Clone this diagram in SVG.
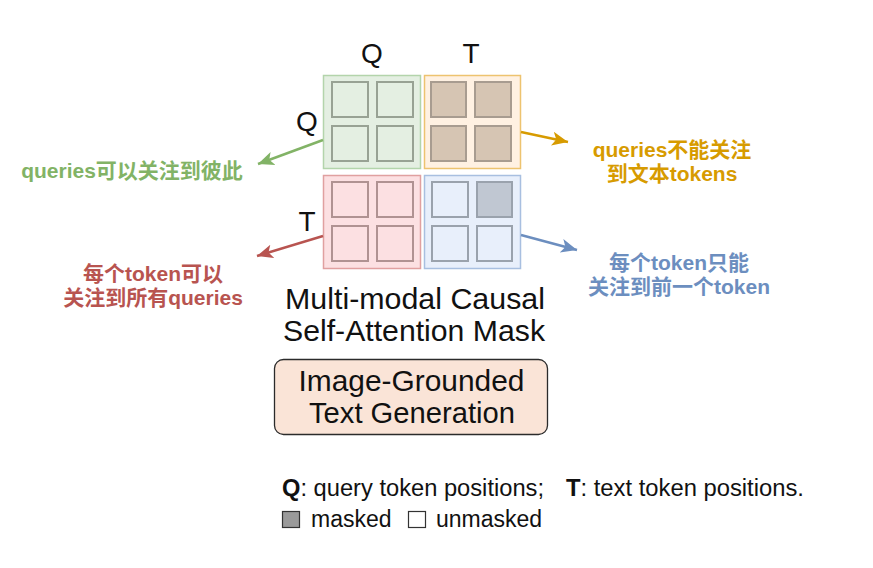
<svg xmlns="http://www.w3.org/2000/svg" width="873" height="568" viewBox="0 0 873 568">
<style>
.lbl{font-family:"Liberation Sans",Arial,Helvetica,sans-serif;fill:#111}
.ax{font-size:28px;text-anchor:middle}
.title{font-size:29.5px;text-anchor:middle}
.box{font-size:30px;text-anchor:middle}
.leg{font-size:23px}
.cn{font-family:"Liberation Sans","Noto Sans CJK SC",sans-serif;font-weight:bold;font-size:21px;text-anchor:middle}
.cell{stroke-width:2}
.conn{stroke-width:2.5;fill:none}
</style>
<defs>
<marker id="mg" markerUnits="userSpaceOnUse" markerWidth="18" markerHeight="16" refX="16" refY="7" orient="auto" viewBox="0 0 18 14"><path d="M0,0 L16,7 L0,14 L4,7 z" fill="#82b366"/></marker>
<marker id="mr" markerUnits="userSpaceOnUse" markerWidth="18" markerHeight="16" refX="16" refY="7" orient="auto" viewBox="0 0 18 14"><path d="M0,0 L16,7 L0,14 L4,7 z" fill="#b85450"/></marker>
<marker id="mo" markerUnits="userSpaceOnUse" markerWidth="18" markerHeight="16" refX="16" refY="7" orient="auto" viewBox="0 0 18 14"><path d="M0,0 L16,7 L0,14 L4,7 z" fill="#d79b00"/></marker>
<marker id="mb" markerUnits="userSpaceOnUse" markerWidth="18" markerHeight="16" refX="16" refY="7" orient="auto" viewBox="0 0 18 14"><path d="M0,0 L16,7 L0,14 L4,7 z" fill="#6c8ebf"/></marker>
</defs>
<rect width="873" height="568" fill="#ffffff"/>

<g id="axis-labels" class="lbl">
<text class="lbl ax" x="372" y="63">Q</text>
<text class="lbl ax" x="471" y="63">T</text>
<text class="lbl ax" x="307" y="131">Q</text>
<text class="lbl ax" x="307" y="231">T</text>
</g>

<g id="quad-QQ">
<rect x="323.5" y="75.5" width="97" height="93" fill="#e4efe2" stroke="#b3d4ab" stroke-width="1.5"/>
<g class="cell" fill="#e4efe2" stroke="#98a294">
<rect x="332" y="82" width="36" height="35"/><rect x="377" y="82" width="36" height="35"/>
<rect x="332" y="126" width="36" height="35"/><rect x="377" y="126" width="36" height="35"/>
</g>
</g>
<g id="quad-QT">
<rect x="424.5" y="75.5" width="96" height="93" fill="#fff1e2" stroke="#edc36f" stroke-width="1.5"/>
<g class="cell" fill="#d6c5b3" stroke="#a89c90">
<rect x="431" y="82" width="35" height="35"/><rect x="475" y="82" width="36" height="35"/>
<rect x="431" y="126" width="35" height="35"/><rect x="475" y="126" width="36" height="35"/>
</g>
</g>
<g id="quad-TQ">
<rect x="323.5" y="175.5" width="97" height="93" fill="#fce0e2" stroke="#e0a0a0" stroke-width="1.5"/>
<g class="cell" fill="#fce0e2" stroke="#b09292">
<rect x="332" y="182" width="36" height="35"/><rect x="377" y="182" width="36" height="35"/>
<rect x="332" y="226" width="36" height="35"/><rect x="377" y="226" width="36" height="35"/>
</g>
</g>
<g id="quad-TT">
<rect x="424.5" y="175.5" width="96" height="93" fill="#e8effb" stroke="#a8bfe0" stroke-width="1.5"/>
<g class="cell" stroke="#9aa2ad">
<rect x="432" y="182" width="36" height="35" fill="#e8effb"/><rect x="477" y="182" width="35" height="35" fill="#c0c7d2"/>
<rect x="432" y="226" width="36" height="35" fill="#e8effb"/><rect x="477" y="226" width="35" height="35" fill="#e8effb"/>
</g>
</g>

<g id="connectors">
<line class="conn" x1="323" y1="140" x2="258" y2="164" stroke="#82b366" marker-end="url(#mg)"/>
<line class="conn" x1="323" y1="236" x2="257" y2="256" stroke="#b85450" marker-end="url(#mr)"/>
<line class="conn" x1="521" y1="132" x2="568" y2="142" stroke="#d79b00" marker-end="url(#mo)"/>
<line class="conn" x1="521" y1="235" x2="577" y2="250" stroke="#6c8ebf" marker-end="url(#mb)"/>
</g>

<g id="note-green"><text class="cn" x="132" y="178" fill="#82b366">queries可以关注到彼此</text></g>
<g id="note-red">
<text class="cn" x="153" y="281" fill="#b85450">每个token可以</text>
<text class="cn" x="153" y="305" fill="#b85450">关注到所有queries</text>
</g>
<g id="note-orange">
<text class="cn" x="672" y="157" fill="#d79b00">queries不能关注</text>
<text class="cn" x="672" y="181" fill="#d79b00">到文本tokens</text>
</g>
<g id="note-blue">
<text class="cn" x="679" y="270" fill="#6c8ebf">每个token只能</text>
<text class="cn" x="679" y="294" fill="#6c8ebf">关注到前一个token</text>
</g>

<g id="title">
<text class="lbl title" x="415" y="309" textLength="260" lengthAdjust="spacingAndGlyphs">Multi-modal Causal</text>
<text class="lbl title" x="414" y="341" textLength="262" lengthAdjust="spacingAndGlyphs">Self-Attention Mask</text>
</g>

<g id="task-box">
<rect x="274.5" y="359.5" width="273" height="75" rx="9" fill="#fae4d7" stroke="#2b2b2b" stroke-width="1.3"/>
<text class="lbl box" x="411.5" y="391" textLength="226" lengthAdjust="spacingAndGlyphs">Image-Grounded</text>
<text class="lbl box" x="412" y="423" textLength="206" lengthAdjust="spacingAndGlyphs">Text Generation</text>
</g>

<g id="legend" class="lbl">
<text class="lbl leg" x="282" y="496" textLength="262" lengthAdjust="spacingAndGlyphs"><tspan font-weight="bold">Q</tspan>: query token positions;</text>
<text class="lbl leg" x="566" y="496" textLength="238" lengthAdjust="spacingAndGlyphs"><tspan font-weight="bold">T</tspan>: text token positions.</text>
<rect x="282.5" y="511.5" width="17" height="16" fill="#9a9a9a" stroke="#333" stroke-width="1.2"/>
<text class="lbl leg" x="311" y="527">masked</text>
<rect x="408.5" y="511.5" width="17" height="16" fill="#fff" stroke="#333" stroke-width="1.2"/>
<text class="lbl leg" x="436" y="527">unmasked</text>
</g>
</svg>
